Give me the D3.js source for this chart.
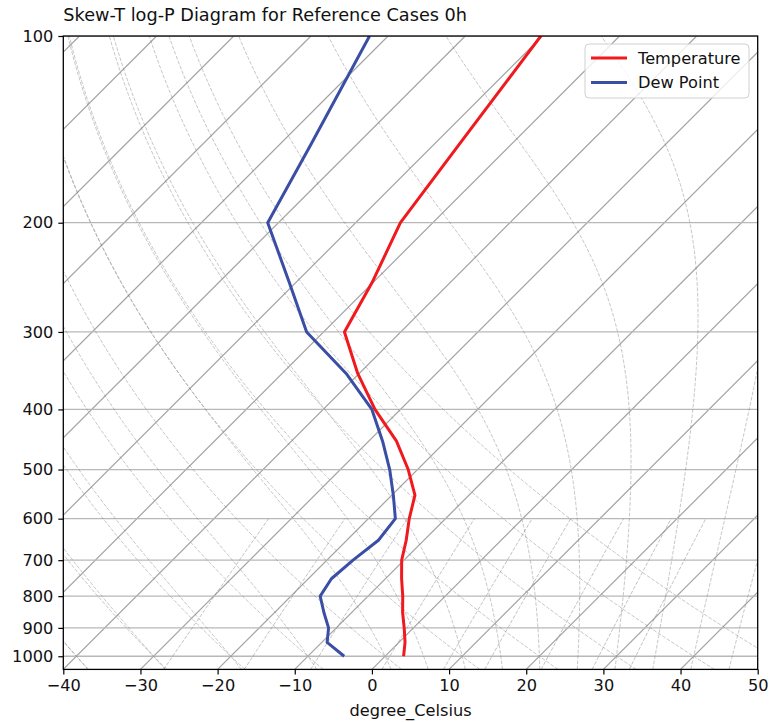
<!DOCTYPE html>
<html>
<head>
<meta charset="utf-8">
<script src="https://cdn.jsdelivr.net/npm/d3@7/dist/d3.min.js"></script>
<style>
  html, body { margin: 0; padding: 0; background: #ffffff; }
  svg { display: block; font-family: "DejaVu Sans", sans-serif; }
</style>
</head>
<body>
<svg id="chart" width="770" height="722"></svg>
<script>
// ---------------- data ----------------
const pressureLevels = [1000, 950, 900, 850, 800, 750, 700, 650, 600, 550, 500, 450, 400, 350, 300, 250, 200, 150, 100];
const temperature = [2.4, 0.8, -1.2, -3.4, -5.5, -7.9, -10.3, -12.3, -14.7, -17.0, -21.2, -26.4, -33.3, -40.2, -47.3, -50.1, -54.2, -56.7, -60.2];
const dewpoint = [-5.3, -9.3, -11.0, -13.6, -16.2, -17.0, -16.6, -15.9, -16.5, -19.8, -23.6, -28.2, -33.7, -41.7, -52.2, -60.8, -71.4, -75.9, -82.4];
const pressureTicks = [100, 200, 300, 400, 500, 600, 700, 800, 900, 1000];
const tempTicks = [-40, -30, -20, -10, 0, 10, 20, 30, 40, 50];
const dryT0 = [-40, -30, -20, -10, 0, 10, 20, 30, 40, 50];
const moistT0 = [-40, -30, -20, -10, 0, 5, 10, 15, 20, 25, 30, 35, 40, 45, 50];
const mixingRatios = [0.0004, 0.001, 0.002, 0.004, 0.007, 0.01, 0.016, 0.024, 0.032];
const titleText = "Skew-T log-P Diagram for Reference Cases 0h";
const xLabelText = "degree_Celsius";
const seriesNames = ["Temperature", "Dew Point"];

// ---------------- layout ----------------
const L = 63.3, R = 757.7, T = 36, B = 669.4;
const pBottom = 1050, pTop = 100;
const svg = d3.select("#chart");

const x = d3.scaleLinear().domain([-40, 50]).range([L, R]);
const y = d3.scaleLog().domain([pBottom, pTop]).range([B, T]);
const skewX = (t, p) => x(t) + (B - y(p));   // 45 degree skew

// ---------------- physics ----------------
const Rd = 287.04749, Cp = 1004.6662, Lv = 2.50084e6, eps = 0.6219569, kappa = Rd / Cp;
function es(Tk) { const tc = Tk - 273.15; return 6.112 * Math.exp(17.67 * tc / (tc + 243.5)); }
function rsat(p, Tk) { const e = es(Tk); return eps * e / (p - e); }
function dTdp(p, Tk) {
  const r = rsat(p, Tk);
  return (Rd * Tk + Lv * r) / (Cp + Lv * Lv * r * eps / (Rd * Tk * Tk)) / p;
}
function rk4(p, Tk, h) {
  const k1 = dTdp(p, Tk);
  const k2 = dTdp(p + h / 2, Tk + h / 2 * k1);
  const k3 = dTdp(p + h / 2, Tk + h / 2 * k2);
  const k4 = dTdp(p + h, Tk + h * k3);
  return Tk + h / 6 * (k1 + 2 * k2 + 2 * k3 + k4);
}
function moistLine(t0) {
  const pts = [];
  const Tk = t0 + 273.15;
  const down = [];
  let tk = Tk;
  for (let p = 1000; p < pBottom; p += 1) { tk = rk4(p, tk, 1); down.push([tk - 273.15, p + 1]); }
  down.reverse().forEach(d => pts.push(d));
  pts.push([t0, 1000]);
  tk = Tk;
  for (let p = 1000; p > pTop; p -= 1) { tk = rk4(p, tk, -1); pts.push([tk - 273.15, p - 1]); }
  return pts.filter((d, i) => i % 5 === 0 || i === pts.length - 1);
}
function dryLine(t0) {
  const pts = [];
  for (let p = pBottom; p >= pTop; p -= 5) pts.push([(t0 + 273.15) * Math.pow(p / 1000, kappa) - 273.15, p]);
  return pts;
}
function mixLine(w) {
  const pts = [];
  for (let p = pBottom; p >= 600; p -= 5) {
    const e = p * w / (eps + w);
    const lg = Math.log(e / 6.112);
    pts.push([243.5 * lg / (17.67 - lg), p]);
  }
  return pts;
}

// ---------------- drawing ----------------
svg.append("defs").append("clipPath").attr("id", "plotclip")
  .append("rect").attr("x", L).attr("y", T).attr("width", R - L).attr("height", B - T);

const plot = svg.append("g").attr("clip-path", "url(#plotclip)");
const line = d3.line().x(d => skewX(d[0], d[1])).y(d => y(d[1]));

// isotherm grid
const isoT = d3.range(-140, 51, 10);
plot.append("g").selectAll("line").data(isoT).join("line")
  .attr("x1", t => skewX(t, pBottom)).attr("y1", y(pBottom))
  .attr("x2", t => skewX(t, pTop)).attr("y2", y(pTop))
  .attr("stroke", "#a4a4a4").attr("stroke-width", 1.25);
// isobar grid
plot.append("g").selectAll("line").data(pressureTicks).join("line")
  .attr("x1", L).attr("x2", R).attr("y1", p => y(p)).attr("y2", p => y(p))
  .attr("stroke", "#b8b8b8").attr("stroke-width", 1.3);

const dash = "3.7,1.6";
// dry adiabats
plot.append("g").selectAll("path").data(dryT0.map(dryLine)).join("path")
  .attr("d", line).attr("fill", "none").attr("stroke", "#808080").attr("stroke-opacity", 0.5)
  .attr("stroke-width", 0.9).attr("stroke-dasharray", dash);
// moist adiabats
plot.append("g").selectAll("path").data(moistT0.map(moistLine)).join("path")
  .attr("d", line).attr("fill", "none").attr("stroke", "#808080").attr("stroke-opacity", 0.5)
  .attr("stroke-width", 0.9).attr("stroke-dasharray", dash);
// mixing lines
plot.append("g").selectAll("path").data(mixingRatios.map(mixLine)).join("path")
  .attr("d", line).attr("fill", "none").attr("stroke", "#808080").attr("stroke-opacity", 0.55)
  .attr("stroke-width", 0.9).attr("stroke-dasharray", dash);

// profiles
const tData = pressureLevels.map((p, i) => [temperature[i], p]);
const dData = pressureLevels.map((p, i) => [dewpoint[i], p]);
plot.append("path").attr("d", line(tData)).attr("fill", "none")
  .attr("stroke", "#f0191e").attr("stroke-width", 3).attr("stroke-linejoin", "round");
plot.append("path").attr("d", line(dData)).attr("fill", "none")
  .attr("stroke", "#3a4ea5").attr("stroke-width", 3).attr("stroke-linejoin", "round");

// axes
const fs = "16.2px";
const xAxis = d3.axisBottom(x).tickValues(tempTicks).tickSize(5).tickPadding(5)
  .tickFormat(d => (d < 0 ? "\u2212" + Math.abs(d) : String(d)));
const gx = svg.append("g").attr("transform", `translate(0,${B})`).call(xAxis);
const yAxis = d3.axisLeft(y).tickValues(pressureTicks).tickSize(5).tickPadding(5).tickFormat(d3.format("d"));
const gy = svg.append("g").attr("transform", `translate(${L},0)`).call(yAxis);
[gx, gy].forEach(g => {
  g.select(".domain").remove();
  g.selectAll(".tick line").attr("stroke", "#000").attr("stroke-width", 1.2);
  g.selectAll(".tick text").attr("fill", "#111").style("font-size", fs)
    .style("font-family", "'DejaVu Sans', sans-serif");
});

// spines
svg.append("rect").attr("x", L).attr("y", T).attr("width", R - L).attr("height", B - T)
  .attr("fill", "none").attr("stroke", "#000").attr("stroke-width", 1.3);

// labels
svg.append("text").attr("x", (L + R) / 2).attr("y", 716).attr("text-anchor", "middle")
  .style("font-size", fs).attr("fill", "#111").text(xLabelText);
svg.append("text").attr("x", L).attr("y", 20.5).attr("text-anchor", "start")
  .style("font-size", "17.7px").attr("fill", "#111").text(titleText);

// legend
const lg = svg.append("g").attr("transform", "translate(585,44)");
lg.append("rect").attr("x", 0).attr("y", 0).attr("width", 164).attr("height", 54).attr("rx", 4)
  .attr("fill", "#fff").attr("fill-opacity", 0.8).attr("stroke", "#d0d0d0").attr("stroke-width", 1);
const colors = ["#f0191e", "#3a4ea5"];
seriesNames.forEach((n, i) => {
  const yy = 14 + i * 24.5;
  lg.append("line").attr("x1", 6).attr("x2", 42).attr("y1", yy).attr("y2", yy)
    .attr("stroke", colors[i]).attr("stroke-width", 3);
  lg.append("text").attr("x", 53).attr("y", yy).attr("dy", "0.36em")
    .style("font-size", fs).attr("fill", "#111").text(n);
});
</script>
</body>
</html>
